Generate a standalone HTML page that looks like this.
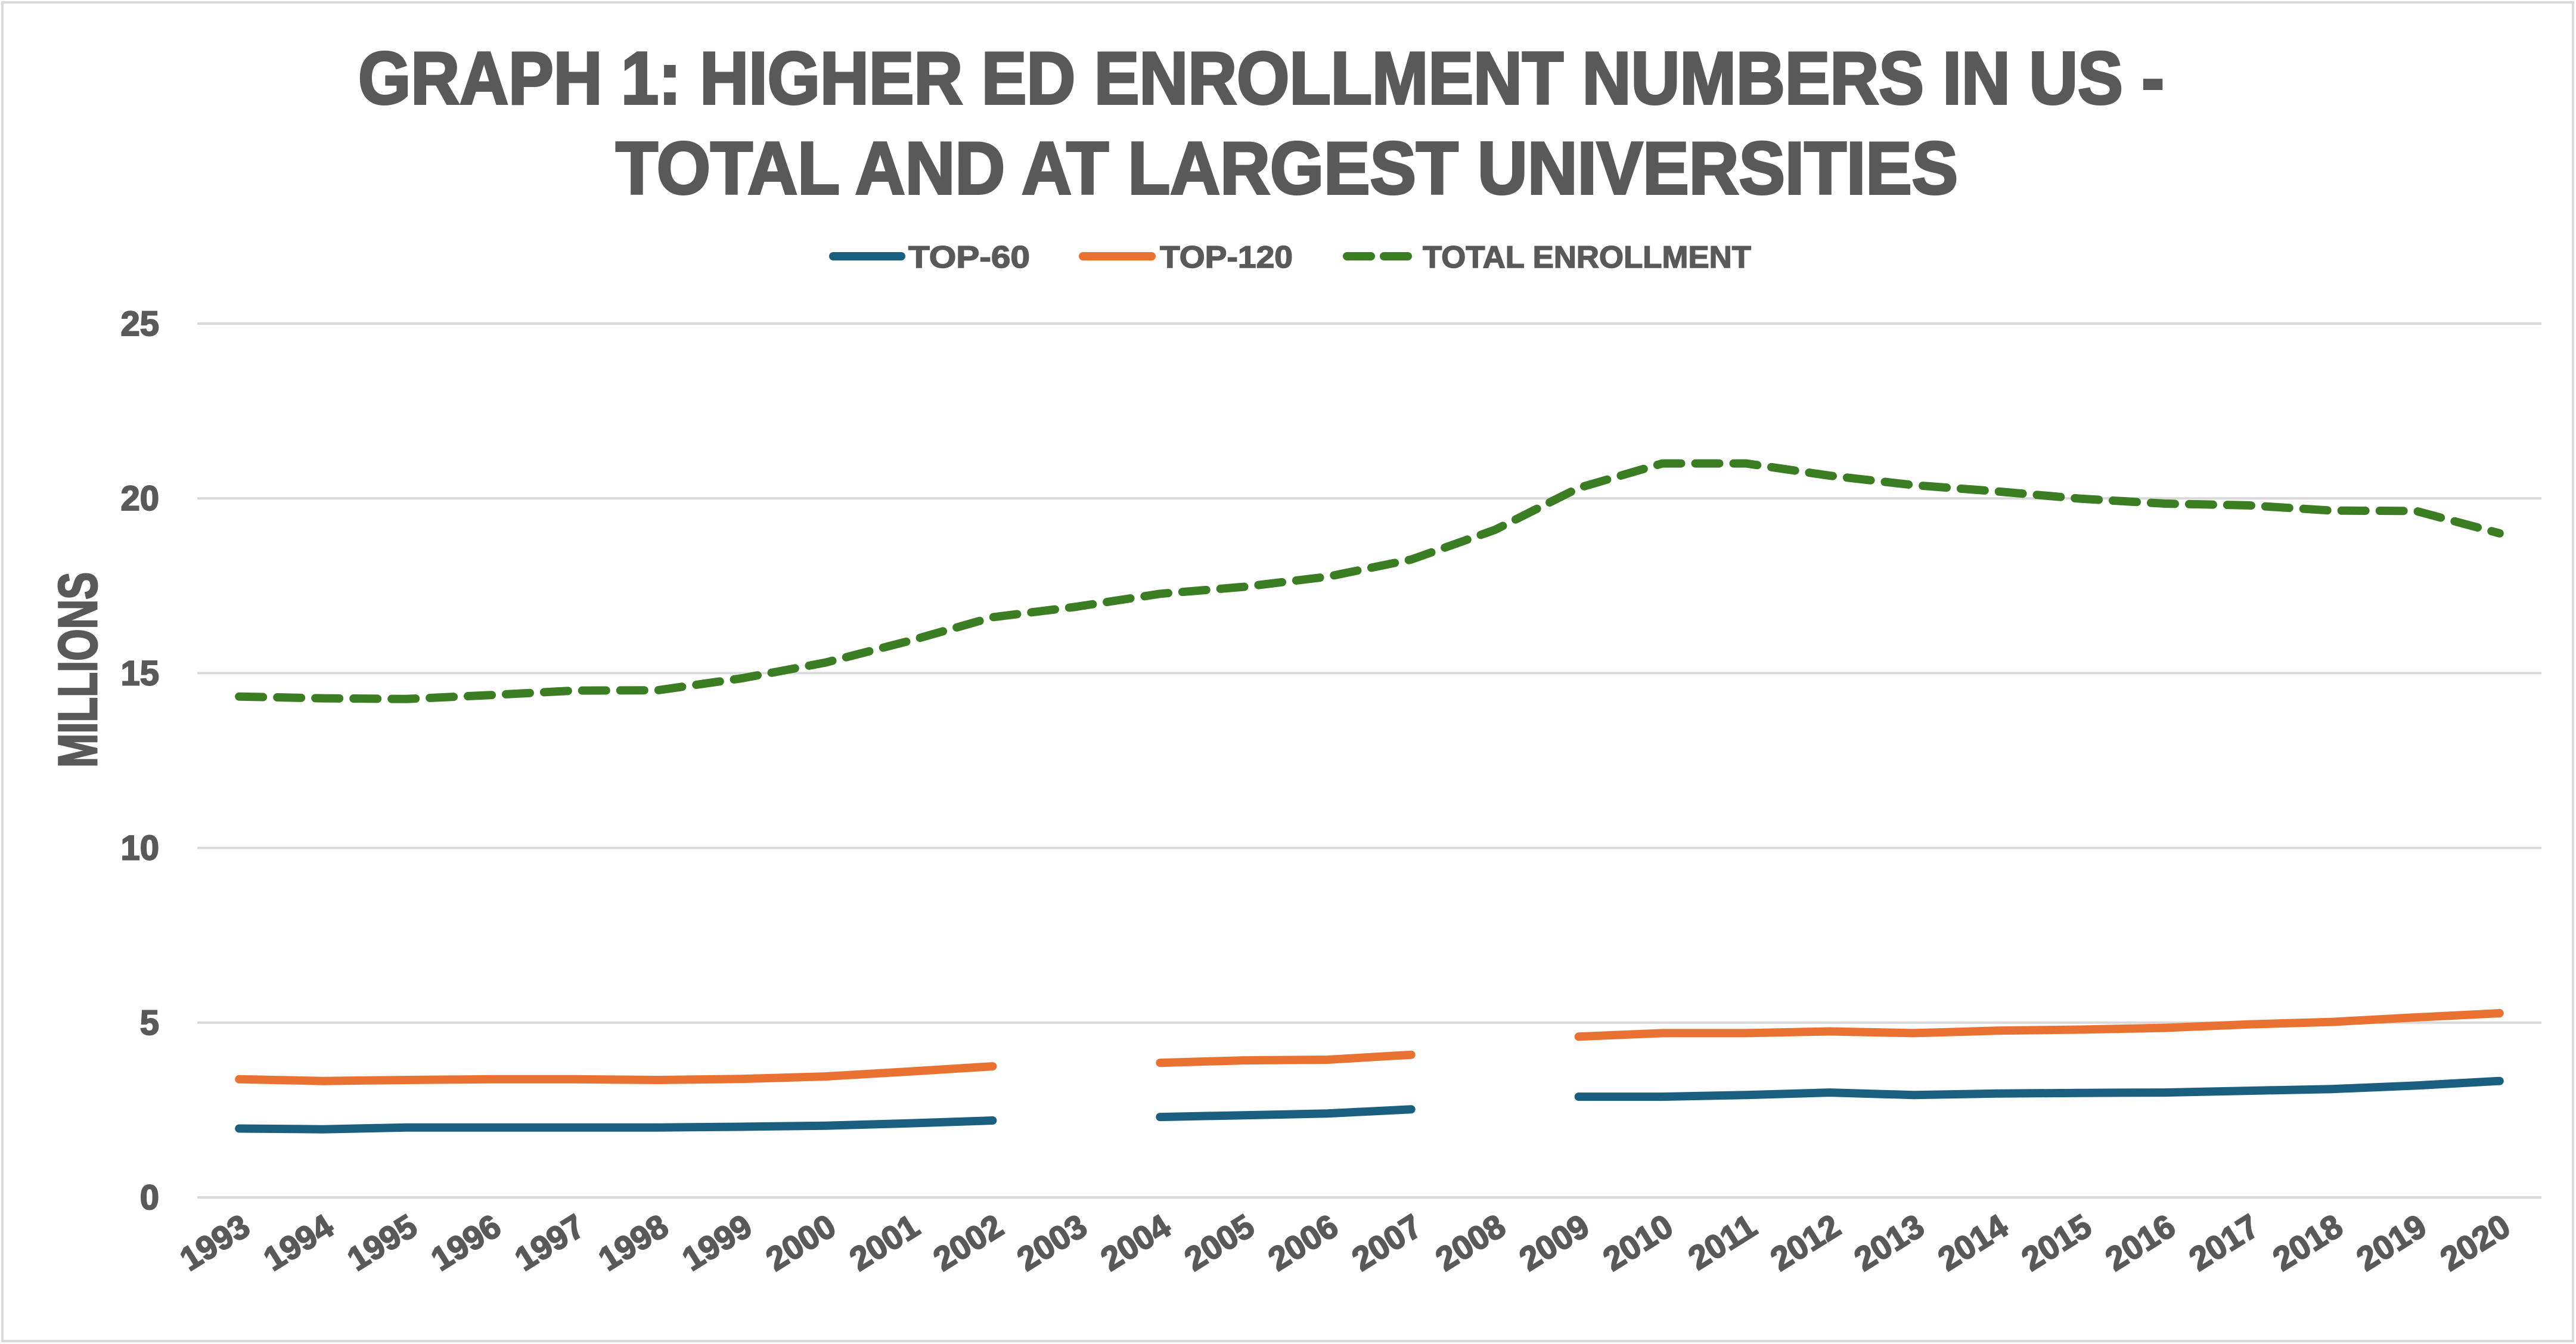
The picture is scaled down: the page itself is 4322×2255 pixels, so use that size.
<!DOCTYPE html>
<html><head><meta charset="utf-8"><style>
html,body{margin:0;padding:0;background:#fff;}
svg{display:block;font-family:"Liberation Sans",sans-serif;font-weight:bold;}
</style></head><body>
<svg id="chart" width="4322" height="2255" viewBox="0 0 4322 2255" xmlns="http://www.w3.org/2000/svg">
<rect x="4" y="4" width="4313" height="2246" fill="#fff" stroke="#d9d9d9" stroke-width="4"/>
<g fill="#595959" stroke="#595959" stroke-width="4" font-size="124">
<text x="601" y="174" textLength="3030" lengthAdjust="spacingAndGlyphs">GRAPH 1: HIGHER ED ENROLLMENT NUMBERS IN US -</text>
<text x="1033" y="325" textLength="2252" lengthAdjust="spacingAndGlyphs">TOTAL AND AT LARGEST UNIVERSITIES</text>
</g>
<g font-size="52" fill="#595959" stroke="#595959" stroke-width="1.5">
<g>
<line x1="1398" y1="430" x2="1512" y2="430" stroke="#1a5e80" stroke-width="14" stroke-linecap="round"/>
<text x="1524" y="449" textLength="204" lengthAdjust="spacingAndGlyphs">TOP-60</text></g>
<g>
<line x1="1817" y1="430" x2="1932" y2="430" stroke="#e97132" stroke-width="14" stroke-linecap="round"/>
<text x="1946" y="449" textLength="223" lengthAdjust="spacingAndGlyphs">TOP-120</text></g>
<g>
<line x1="2260" y1="430" x2="2372" y2="430" stroke="#3a7d22" stroke-width="14" stroke-linecap="round" stroke-dasharray="40 22"/>
<text x="2387" y="449" textLength="551" lengthAdjust="spacingAndGlyphs">TOTAL ENROLLMENT</text></g>
</g>
<text transform="translate(162,1124) rotate(-90)" text-anchor="middle" font-size="92" fill="#595959" stroke="#595959" stroke-width="3" textLength="328" lengthAdjust="spacingAndGlyphs">MILLIONS</text>
<g id="grid"></g><g id="yticks"></g><g id="xticks"></g><g id="series"></g>
</svg>
<script>
const years=[1993,1994,1995,1996,1997,1998,1999,2000,2001,2002,2003,2004,2005,2006,2007,2008,2009,2010,2011,2012,2013,2014,2015,2016,2017,2018,2019,2020];
const top60=[1.97,1.95,2.0,2.0,2.0,2.0,2.02,2.05,2.12,2.2,null,2.3,2.35,2.4,2.52,null,2.88,2.88,2.93,3.0,2.93,2.97,2.99,3.0,3.05,3.1,3.2,3.33];
const top120=[3.38,3.33,3.36,3.38,3.38,3.36,3.39,3.46,3.6,3.75,null,3.85,3.92,3.94,4.08,null,4.6,4.7,4.7,4.75,4.7,4.77,4.8,4.85,4.95,5.02,5.15,5.27];
const total=[14.33,14.28,14.26,14.37,14.5,14.51,14.85,15.3,15.92,16.6,16.9,17.27,17.47,17.76,18.25,19.1,20.3,21.0,21.0,20.65,20.38,20.2,19.99,19.85,19.8,19.65,19.64,19.0];
const yTicks=[0,5,10,15,20,25];
const NS="http://www.w3.org/2000/svg";
const L=331,R=4264,Y0=2009,Y25=543;
const band=(R-L)/years.length;
const x=i=>L+band*(i+0.5);
const y=v=>Y0-(v/25)*(Y0-Y25);
function mk(t,a,p){const e=document.createElementNS(NS,t);for(const k in a)e.setAttribute(k,a[k]);p.appendChild(e);return e;}
const grid=document.getElementById('grid'),yt=document.getElementById('yticks'),xt=document.getElementById('xticks'),ser=document.getElementById('series');
yTicks.forEach(v=>{
 const g=mk('line',{x1:L,x2:R,y1:y(v),y2:y(v),stroke:'#d9d9d9','stroke-width':4},grid);
 
 
 const t=mk('text',{x:267,y:y(v)+20,'text-anchor':'end','font-size':58,fill:'#595959',stroke:'#595959','stroke-width':2},yt);
 t.textContent=v;
 
 
});
years.forEach((yr,i)=>{
 const t=mk('text',{transform:`translate(${x(i)+22},${2068}) rotate(-32)`,'text-anchor':'end','font-size':56,fill:'#595959',stroke:'#595959','stroke-width':2},xt);
 t.textContent=yr;
 
 
});
function draw(vals,color,name,dash){
 let d='',pen=false;
 vals.forEach((v,i)=>{if(v==null){pen=false;return;}d+=(pen?'L':'M')+x(i).toFixed(1)+' '+y(v).toFixed(1)+' ';pen=true;});
 const a={d:d,fill:'none',stroke:color,'stroke-width':14,'stroke-linecap':'round','stroke-linejoin':'round'};
 if(dash)a['stroke-dasharray']='40 24';
 const p=mk('path',a,ser);
 
 
}
draw(total,'#3a7d22','total-enrollment-line',true);
draw(top120,'#e97132','top-120-line',false);
draw(top60,'#1a5e80','top-60-line',false);
</script>
</body></html>
